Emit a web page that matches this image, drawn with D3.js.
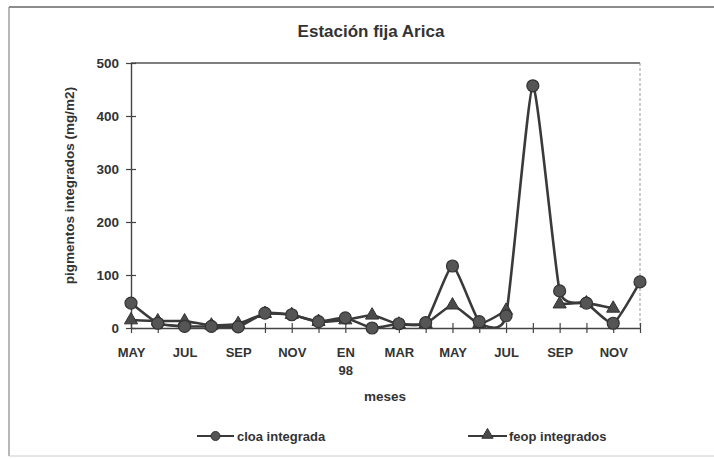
<!DOCTYPE html>
<html>
<head>
<meta charset="utf-8">
<script src="https://cdn.jsdelivr.net/npm/d3@7"></script>
<style>
  html, body { margin: 0; padding: 0; background: #fff; }
  #chart { width: 714px; height: 459px; }
  text { font-family: "Liberation Sans", Arial, sans-serif; fill: #333; }
</style>
</head>
<body>
<div id="chart"></div>
<script>
// months May 1997 .. Dec 1998
const months = ["may97","jun97","jul97","ago97","sep97","oct97","nov97","dic97",
  "ene98","feb98","mar98","abr98","may98","jun98","jul98","ago98","sep98","oct98","nov98","dic98"];
const monthLabels = ["MAY","","JUL","","SEP","","NOV","","EN|98","","MAR","","MAY","","JUL","","SEP","","NOV",""];

// integrated pigments (mg/m2), null = no data
const cloa = [47, 9, 3, 3, 2, 28, 25, 12, 19, 0, 8, 10, 117, 12, 23, 457, 70, 47, 9, 87];
const feop = [15, 13, 13, 5, 8, 27, 25, 12, 15, 24, 7, 8, 43, 8, 33, null, 45, 47, 37, null];

const yTicks = [0, 100, 200, 300, 400, 500];

function renderChart(containerId) {
  const container = d3.select(`#${containerId}`);
  container.selectAll("*").remove();

  const width = 714, height = 459;
  const svg = container.append("svg")
    .attr("width", width)
    .attr("height", height);

  // outer frame (scanned page edges)
  svg.append("line").attr("x1", 9).attr("x2", width).attr("y1", 7).attr("y2", 7)
    .attr("stroke", "#666").attr("stroke-width", 1.5);
  svg.append("line").attr("x1", 9).attr("x2", 9).attr("y1", 7).attr("y2", 456)
    .attr("stroke", "#888").attr("stroke-width", 1.2);
  svg.append("line").attr("x1", 9).attr("x2", width).attr("y1", 456).attr("y2", 456)
    .attr("stroke", "#ccc").attr("stroke-width", 1);

  const plot = { left: 131, right: 640, top: 63, bottom: 328 };

  const x = d3.scalePoint()
    .domain(months)
    .range([plot.left, plot.right]);

  const y = d3.scaleLinear()
    .domain([0, 500])
    .range([plot.bottom, plot.top]);

  // keep smoothed lines from dipping under the x axis
  svg.append("clipPath").attr("id", "plot-clip")
    .append("rect")
    .attr("x", plot.left - 10).attr("y", plot.top - 10)
    .attr("width", plot.right - plot.left + 20)
    .attr("height", plot.bottom - plot.top + 10);

  // plot frame top + right
  svg.append("line").attr("x1", plot.left).attr("x2", plot.right)
    .attr("y1", plot.top).attr("y2", plot.top)
    .attr("stroke", "#555").attr("stroke-width", 1.3);
  svg.append("line").attr("x1", plot.right).attr("x2", plot.right)
    .attr("y1", plot.top).attr("y2", plot.bottom)
    .attr("stroke", "#999").attr("stroke-width", 1).attr("stroke-dasharray", "3,2");

  // y axis
  const yAxis = d3.axisLeft(y).tickValues(yTicks).tickSize(0).tickPadding(12);
  const gy = svg.append("g").attr("transform", `translate(${plot.left},0)`).call(yAxis);
  gy.select(".domain").attr("stroke", "#444").attr("stroke-width", 1.4);
  gy.selectAll(".tick text").style("font-size", "13.5px").style("font-weight", "bold").attr("fill", "#333");
  gy.selectAll(".tick").append("line")
    .attr("x1", -5).attr("x2", 5).attr("stroke", "#444").attr("stroke-width", 1.2);

  // x axis
  const xAxis = d3.axisBottom(x).tickSize(0).tickFormat(() => "");
  const gx = svg.append("g").attr("transform", `translate(0,${plot.bottom})`).call(xAxis);
  gx.select(".domain").attr("stroke", "#444").attr("stroke-width", 1.4);
  gx.selectAll(".tick").append("line")
    .attr("y1", -5).attr("y2", 5).attr("stroke", "#444").attr("stroke-width", 1.2);
  gx.selectAll(".tick text").remove();
  gx.selectAll(".tick").each(function(d, i) {
    const lab = monthLabels[i];
    if (!lab) return;
    const t = d3.select(this).append("text")
      .attr("text-anchor", "middle")
      .attr("fill", "#333")
      .style("font-size", "13px")
      .style("font-weight", "bold");
    lab.split("|").forEach((part, k) => {
      t.append("tspan").attr("x", 0).attr("y", 29 + k * 18).text(part);
    });
  });

  // smoothed lines (as in the spreadsheet original)
  const line = d3.line()
    .defined(d => d.v !== null)
    .x(d => x(d.m))
    .y(d => y(d.v))
    .curve(d3.curveCardinal.tension(0.5));

  const feopData = months.map((m, i) => ({ m, v: feop[i] }));
  const cloaData = months.map((m, i) => ({ m, v: cloa[i] }));

  const triangle = d3.symbol().type(d3.symbolTriangle).size(75);

  const lines = svg.append("g").attr("clip-path", "url(#plot-clip)");

  lines.append("path").datum(feopData)
    .attr("d", line).attr("fill", "none")
    .attr("stroke", "#3a3a3a").attr("stroke-width", 2.6)
    .attr("stroke-linejoin", "round");

  lines.append("path").datum(cloaData)
    .attr("d", line).attr("fill", "none")
    .attr("stroke", "#3a3a3a").attr("stroke-width", 2.6)
    .attr("stroke-linejoin", "round");

  svg.append("g").selectAll("path")
    .data(feopData.filter(d => d.v !== null))
    .join("path")
    .attr("d", triangle)
    .attr("transform", d => `translate(${x(d.m)},${y(d.v)})`)
    .attr("fill", "#4a4a4a").attr("stroke", "#333").attr("stroke-width", 1);

  svg.append("g").selectAll("circle")
    .data(cloaData)
    .join("circle")
    .attr("cx", d => x(d.m))
    .attr("cy", d => y(d.v))
    .attr("r", 6)
    .attr("fill", "#555").attr("stroke", "#333").attr("stroke-width", 1.2);

  // title
  svg.append("text")
    .attr("x", 371).attr("y", 37)
    .attr("text-anchor", "middle")
    .style("font-size", "17px").style("font-weight", "bold")
    .text("Estación fija Arica");

  // y label
  svg.append("text")
    .attr("transform", `translate(74,${(plot.top + plot.bottom) / 2 - 10}) rotate(-90)`)
    .attr("text-anchor", "middle")
    .style("font-size", "13.5px").style("font-weight", "bold")
    .text("pigmentos integrados (mg/m2)");

  // x label
  svg.append("text")
    .attr("x", 385).attr("y", 401)
    .attr("text-anchor", "middle")
    .style("font-size", "13.5px").style("font-weight", "bold")
    .text("meses");

  // legend
  const ly = 436;
  const lg1 = svg.append("g");
  lg1.append("line").attr("x1", 197).attr("x2", 234).attr("y1", ly).attr("y2", ly)
    .attr("stroke", "#3a3a3a").attr("stroke-width", 2);
  lg1.append("circle").attr("cx", 215.5).attr("cy", ly).attr("r", 4.5)
    .attr("fill", "#555").attr("stroke", "#333");
  lg1.append("text").attr("x", 237).attr("y", ly + 4.5)
    .style("font-size", "13px").style("font-weight", "bold").text("cloa integrada");

  const lg2 = svg.append("g");
  lg2.append("line").attr("x1", 468).attr("x2", 507).attr("y1", ly).attr("y2", ly)
    .attr("stroke", "#3a3a3a").attr("stroke-width", 2);
  lg2.append("path").attr("d", d3.symbol().type(d3.symbolTriangle).size(55))
    .attr("transform", `translate(487.5,${ly - 1})`)
    .attr("fill", "#4a4a4a").attr("stroke", "#333");
  lg2.append("text").attr("x", 509).attr("y", ly + 4.5)
    .style("font-size", "13px").style("font-weight", "bold").text("feop integrados");
}

document.addEventListener("DOMContentLoaded", () => renderChart("chart"));
</script>
</body>
</html>
